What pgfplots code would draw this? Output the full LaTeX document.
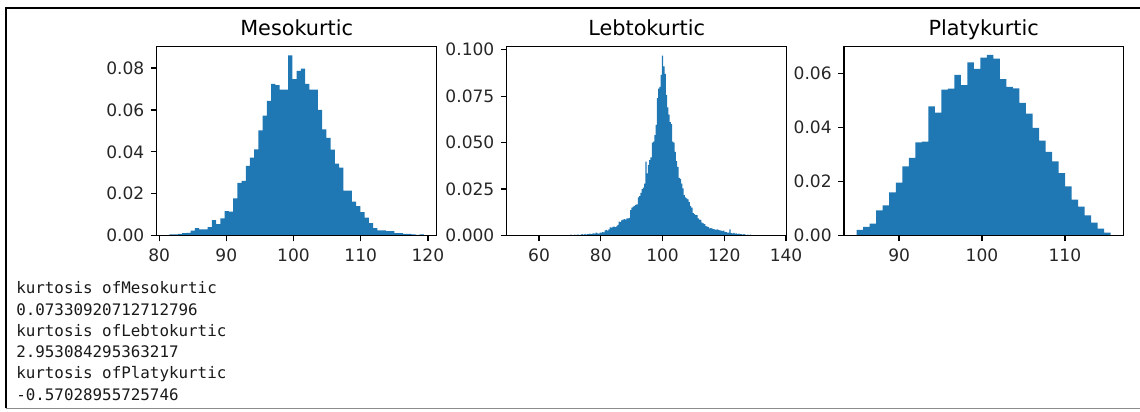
\documentclass[border=0pt]{standalone}
\usepackage{fontspec}
\setmainfont{DejaVu Sans}
\newfontfamily\monofont{DejaVu Sans Mono}
\usepackage{pgfplots}
\pgfplotsset{compat=1.18}
\usepackage{pgfplotstable}
\definecolor{mplblue}{HTML}{1F77B4}

\pgfplotstableread[row sep=\\]{
y\\
0.0006\\ 0.0006\\ 0.0008\\ 0.0011\\ 0.0013\\ 0.0024\\ 0.0035\\ 0.0030\\ 0.0030\\ 0.0040\\
0.0074\\ 0.0054\\ 0.0082\\ 0.0117\\ 0.0114\\ 0.0177\\ 0.0252\\ 0.0261\\ 0.0333\\ 0.0372\\
0.0412\\ 0.0502\\ 0.0573\\ 0.0643\\ 0.0724\\ 0.0719\\ 0.0697\\ 0.0697\\ 0.0861\\ 0.0747\\
0.0787\\ 0.0797\\ 0.0724\\ 0.0697\\ 0.0697\\ 0.0600\\ 0.0507\\ 0.0467\\ 0.0410\\ 0.0344\\
0.0325\\ 0.0214\\ 0.0214\\ 0.0162\\ 0.0141\\ 0.0112\\ 0.0086\\ 0.0059\\ 0.0035\\ 0.0025\\
0.0025\\ 0.0021\\ 0.0021\\ 0.0011\\ 0.0011\\ 0.0008\\ 0.0008\\ 0.0006\\ 0.0003\\ 0.0006\\
0.0006\\
}\meso

\pgfplotstableread[row sep=\\]{
y\\
0.0002\\ 0\\ 0\\ 0\\ 0\\ 0\\ 0\\ 0\\ 0\\ 0\\
0\\ 0\\ 0\\ 0\\ 0\\ 0\\ 0\\ 0\\ 0\\ 0\\
0.0002\\ 0\\ 0.0002\\ 0\\ 0\\ 0.0002\\ 0\\ 0\\ 0.0002\\ 0\\
0.0002\\ 0\\ 0\\ 0\\ 0\\ 0.0002\\ 0\\ 0\\ 0.0002\\ 0.0002\\
0.0005\\ 0.0002\\ 0.0002\\ 0.0005\\ 0.0002\\ 0.0005\\ 0.0005\\ 0.0002\\ 0.0005\\ 0.0007\\
0.0005\\ 0.0007\\ 0.0005\\ 0.0007\\ 0.0007\\ 0.0010\\ 0.0007\\ 0.0010\\ 0.0012\\ 0.0010\\
0.0015\\ 0.0012\\ 0.0010\\ 0.0015\\ 0.0015\\ 0.0018\\ 0.0017\\ 0.0028\\ 0.0030\\ 0.0027\\
0.0033\\ 0.0044\\ 0.0042\\ 0.0046\\ 0.0048\\ 0.0045\\ 0.0049\\ 0.0058\\ 0.0075\\ 0.0072\\
0.0082\\ 0.0085\\ 0.0088\\ 0.0086\\ 0.0092\\ 0.0093\\ 0.0095\\ 0.0137\\ 0.0150\\ 0.0155\\
0.0160\\ 0.0165\\ 0.0168\\ 0.0205\\ 0.0212\\ 0.0230\\ 0.0250\\ 0.0258\\ 0.0280\\ 0.0398\\
0.0335\\ 0.0380\\ 0.0406\\ 0.0420\\ 0.0500\\ 0.0505\\ 0.0540\\ 0.0595\\ 0.0740\\ 0.0790\\
0.0800\\ 0.0864\\ 0.0968\\ 0.0910\\ 0.0870\\ 0.0757\\ 0.0690\\ 0.0650\\ 0.0610\\ 0.0600\\
0.0505\\ 0.0500\\ 0.0450\\ 0.0400\\ 0.0370\\ 0.0310\\ 0.0305\\ 0.0280\\ 0.0254\\ 0.0218\\
0.0205\\ 0.0200\\ 0.0195\\ 0.0180\\ 0.0160\\ 0.0150\\ 0.0120\\ 0.0115\\ 0.0110\\ 0.0110\\
0.0093\\ 0.0086\\ 0.0084\\ 0.0070\\ 0.0066\\ 0.0062\\ 0.0050\\ 0.0048\\ 0.0045\\ 0.0039\\
0.0040\\ 0.0037\\ 0.0035\\ 0.0033\\ 0.0031\\ 0.0033\\ 0.0030\\ 0.0028\\ 0.0026\\ 0.0024\\
0.0026\\ 0.0020\\ 0.0018\\ 0.0015\\ 0.0015\\ 0.0033\\ 0.0013\\ 0.0012\\ 0.0014\\ 0.0010\\
0.0012\\ 0.0008\\ 0.0010\\ 0.0007\\ 0.0008\\ 0.0005\\ 0.0007\\ 0.0005\\ 0.0002\\ 0.0005\\
0.0002\\ 0.0005\\ 0.0002\\ 0\\ 0.0002\\ 0.0002\\ 0\\ 0.0002\\ 0\\ 0\\
0.0002\\ 0\\ 0\\ 0\\ 0\\ 0\\ 0\\ 0\\ 0\\ 0.0002\\
0.0002\\
}\lepto

\pgfplotstableread[row sep=\\]{
y\\
0.0021\\ 0.0032\\ 0.0044\\ 0.0093\\ 0.0112\\ 0.0160\\ 0.0196\\ 0.0256\\ 0.0288\\ 0.0345\\
0.0348\\ 0.0479\\ 0.0456\\ 0.0541\\ 0.0545\\ 0.0596\\ 0.0558\\ 0.0642\\ 0.0618\\ 0.0660\\
0.0670\\ 0.0656\\ 0.0580\\ 0.0551\\ 0.0546\\ 0.0492\\ 0.0452\\ 0.0399\\ 0.0352\\ 0.0310\\
0.0275\\ 0.0231\\ 0.0182\\ 0.0133\\ 0.0107\\ 0.0075\\ 0.0048\\ 0.0026\\ 0.0011\\
0.0011\\
}\platy

\pgfplotsset{
  histo/.style={
    scale only axis, width=210pt, height=141.6pt, ymin=0,
    anchor=south west, axis on top,
    axis line style={black, line width=0.95pt},
    tick pos=left, tick align=outside, major tick length=4.3pt,
    every tick/.style={black, line width=0.95pt},
    tick label style={font=\fontsize{12.8}{14}\selectfont, text=black!85},
    /pgf/number format/assume math mode=true,
    xticklabel style={inner sep=0pt, anchor=north, yshift=-5.5pt},
    yticklabel style={inner sep=0pt, anchor=east, xshift=-4.75pt},
    title style={font=\fontsize{15.6}{18}\selectfont, at={(0.5,1)}, anchor=base, yshift=2.25pt, inner sep=0pt},
    scaled y ticks=false, scaled x ticks=false,
    yticklabel style={/pgf/number format/.cd, fixed, fixed zerofill, precision=2},
    xticklabel style={/pgf/number format/.cd, fixed, precision=0},
  },
  bars/.style={fill=mplblue, draw=none, const plot mark left},
}

\begin{document}
\begin{tikzpicture}
\path[use as bounding box] (0,0) rectangle (855pt,308.25pt);

\begin{axis}[histo, at={(117.5pt,131.6pt)},
  title={Mesokurtic},
  xmin=79.63, xmax=121.31, ymax=0.0902,
  xtick={80,90,100,110,120}, ytick={0,0.02,0.04,0.06,0.08}]
\addplot[bars] table[x expr={81.52+0.6317*\coordindex}, y=y] {\meso} \closedcycle;
\end{axis}

\begin{axis}[histo, at={(380pt,131.6pt)},
  title={Lebtokurtic},
  xmin=49.5, xmax=140.2, ymax=0.1016,
  xtick={60,80,100,120,140}, ytick={0,0.025,0.05,0.075,0.1},
  yticklabel style={/pgf/number format/.cd, fixed, fixed zerofill, precision=3}]
\addplot[bars] table[x expr={53.6+0.4125*\coordindex}, y=y] {\lepto} \closedcycle;
\end{axis}

\begin{axis}[histo, at={(633pt,131.6pt)}, width=209.5pt,
  title={Platykurtic},
  xmin=83.35, xmax=117.05, ymax=0.0700,
  xtick={90,100,110}, ytick={0,0.02,0.04,0.06}]
\addplot[bars] table[x expr={84.88+0.7856*\coordindex}, y=y] {\platy} \closedcycle;
\end{axis}

\begin{scope}[font=\fontsize{11.9}{14}\monofont, text=black!90]
\node[anchor=base west, inner sep=0pt] at (12pt,87.75pt) {kurtosis ofMesokurtic};
\node[anchor=base west, inner sep=0pt] at (12pt,71.85pt) {0.07330920712712796};
\node[anchor=base west, inner sep=0pt] at (12pt,55.95pt) {kurtosis ofLebtokurtic};
\node[anchor=base west, inner sep=0pt] at (12pt,40.05pt) {2.953084295363217};
\node[anchor=base west, inner sep=0pt] at (12pt,24.15pt) {kurtosis ofPlatykurtic};
\node[anchor=base west, inner sep=0pt] at (12pt,8.25pt) {-0.57028955725746};
\end{scope}

\draw[black, line width=1.5pt] (4.2pt,2pt) -- (4.2pt,302.25pt) -- (855pt,302.25pt);
\draw[black!45, line width=1.1pt] (4.2pt,2pt) -- (855pt,2pt);
\end{tikzpicture}
\end{document}
